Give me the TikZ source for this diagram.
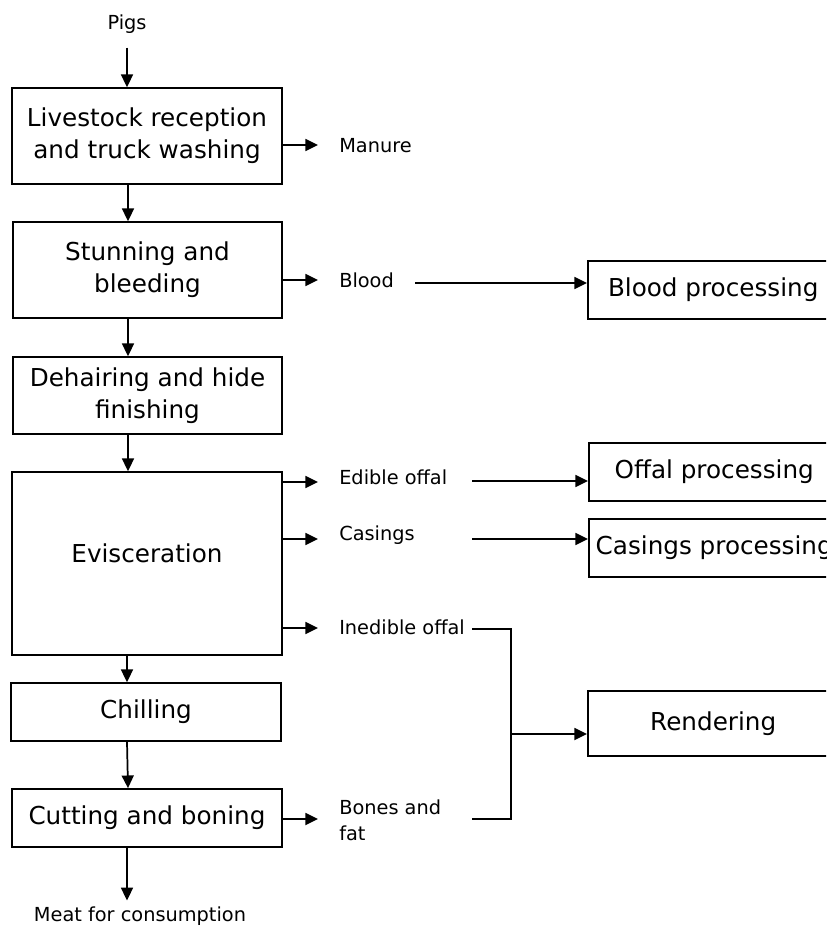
\documentclass[tikz,border=0pt]{standalone}
\usepackage{fontspec}
\setmainfont{DejaVu Sans}
\usetikzlibrary{arrows.meta}
\begin{document}
\begin{tikzpicture}[x=0.75pt,y=-0.75pt,
  box/.style={draw,line width=1.3pt,rectangle,inner sep=0pt,align=center,font=\fontsize{18.5}{24}\selectfont},
  lbl/.style={inner sep=0pt,anchor=west,align=left,font=\fontsize{14.5}{19.5}\selectfont},
  arr/.style={line width=1.3pt,-{Triangle[length=9.5pt,width=9pt]}},
  ln/.style={line width=1.3pt}]
\clip (0,0) rectangle (826,926);
% main chain
\node[inner sep=0pt,font=\fontsize{14.5}{15}\selectfont] (pigs) at (127,24) {Pigs};
\node[box,minimum width=202.5pt,minimum height=72pt] (b1) at (147,136) {Livestock reception\\and truck washing};
\node[box,minimum width=202pt,minimum height=72pt] (b2) at (147.5,270) {Stunning and\\bleeding};
\node[box,minimum width=202pt,minimum height=57.75pt] (b3) at (147.5,395.5) {Dehairing and hide\\finishing};
\node[box,minimum width=202.5pt,minimum height=137.25pt,label={[font=\fontsize{18.5}{24}\selectfont,yshift=7.5pt]center:Evisceration}] (b4) at (147,563.5) {};
\node[box,minimum width=202.5pt,minimum height=43.5pt] (b5) at (146,712) {Chilling};
\node[box,minimum width=202.5pt,minimum height=43.5pt] (b6) at (147,818) {Cutting and boning};
\node[inner sep=0pt,font=\fontsize{14.5}{15}\selectfont] (meat) at (140,916) {Meat for consumption};
% right boxes
\node[box,minimum width=188pt,minimum height=43.5pt,anchor=west] (bp) at (587,290) {Blood processing};
\node[box,minimum width=188pt,minimum height=43.5pt,anchor=west] (op) at (588,472) {Offal processing};
\node[box,minimum width=188pt,minimum height=43.5pt,anchor=west] (cp) at (588,548) {Casings processing};
\node[box,minimum width=188pt,minimum height=48.75pt,anchor=west] (rp) at (587,723.5) {Rendering};
% labels
\node[lbl] (man) at (339,146) {Manure};
\node[lbl] (blood) at (339,280) {Blood};
\node[lbl] (edo) at (339,477) {Edible offal};
\node[lbl] (cas) at (339,535) {Casings};
\node[lbl] (ino) at (339,627) {Inedible offal};
\node[lbl,anchor=north west] (bon) at (339,800) {Bones and\\fat};
% junction coordinates
\coordinate (jt) at (511,629);
\coordinate (jb) at (511,819);
\coordinate (jm) at (511,734);
% vertical arrows
\draw[arr] (pigs.south) ++(0,14) -- (b1.north -| pigs);
\draw[arr] (b1.south -| 128,0) -- (b2.north -| 128,0);
\draw[arr] (b2.south -| 128,0) -- (b3.north -| 128,0);
\draw[arr] (b3.south -| 128,0) -- (b4.north -| 128,0);
\draw[arr] (b4.south -| 127,0) -- (b5.north -| 127,0);
\draw[arr] (b5.south -| 127,0) -- (b6.north -| 128,0);
\draw[arr] (b6.south -| 127,0) -- ([yshift=4.5pt]meat.north -| 127,0);
% side arrows
\draw[arr] (b1.east |- 0,145) -- (318,145);
\draw[arr] (b2.east |- 0,280) -- (318,280);
\draw[arr] (b4.east |- 0,482) -- (318,482);
\draw[arr] (b4.east |- 0,539) -- (318,539);
\draw[arr] (b4.east |- 0,628) -- (318,628);
\draw[arr] (b6.east |- 0,819) -- (318,819);
% to processing
\draw[arr] (415,283) -- (bp.west |- 0,283);
\draw[arr] (472,481) -- (op.west |- 0,481);
\draw[arr] (472,539) -- (cp.west |- 0,539);
\draw[ln] (472,629) -- (jt) -- (jb) -- (472,819);
\draw[arr] (jm) -- (rp.west |- jm);
\end{tikzpicture}
\end{document}
